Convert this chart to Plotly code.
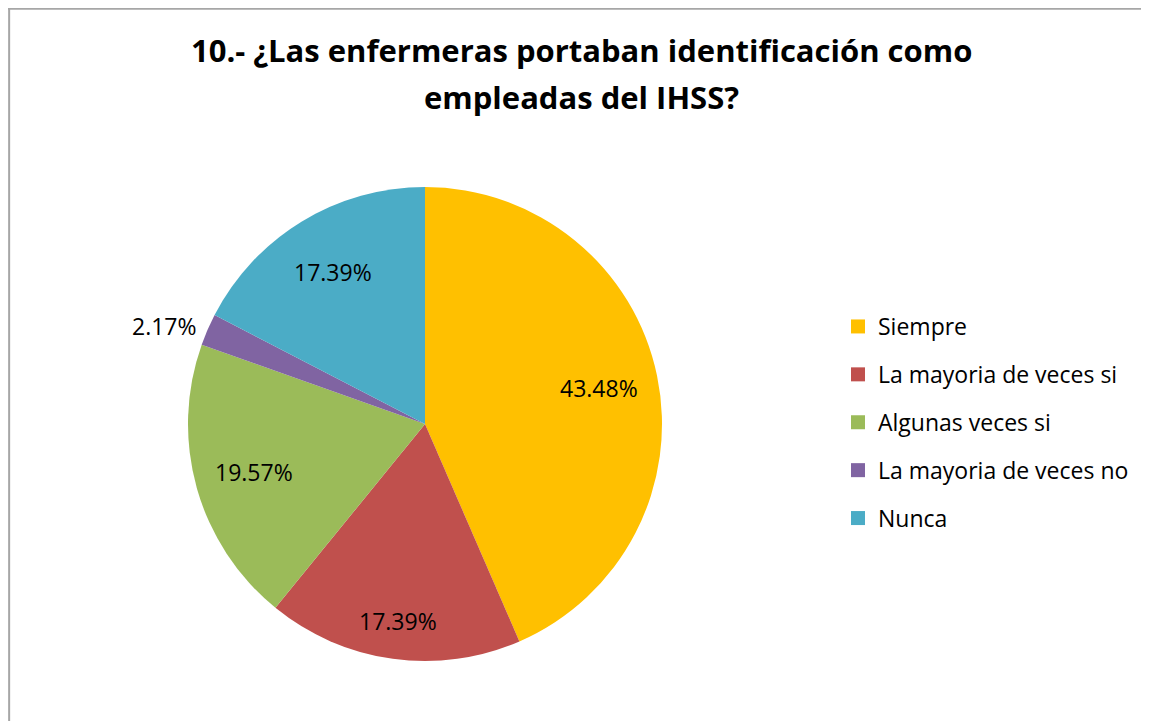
import math
import plotly.graph_objects as go

categories = ["Siempre", "La mayoria de veces si", "Algunas veces si",
              "La mayoria de veces no", "Nunca"]
counts = [20, 8, 9, 1, 8]
colors = ["#FFC000", "#C0504D", "#9BBB59", "#8064A2", "#4BACC6"]
title_lines = ["10.- ¿Las enfermeras portaban identificación como",
               "empleadas del IHSS?"]

# label placement (style): radius fraction per slice, and outside flag
label_r = [0.75, 0.84, 0.75, 1.04, 0.75]
label_out = [False, False, False, True, False]

# figure sits at an 8px body offset in the page
W, H = 1141, 713
OX, OY = 8, 8
cx, cy, R = 425 - OX, 424 - OY, 237

FONT = "Open Sans"

fig = go.Figure()
fig.add_trace(go.Pie(
    labels=categories,
    values=counts,
    sort=False,
    direction="clockwise",
    rotation=0,
    marker=dict(colors=colors, line=dict(width=0)),
    textinfo="none",
    showlegend=False,
    domain=dict(x=[(cx - R) / W, (cx + R) / W],
                y=[(H - cy - R) / H, (H - cy + R) / H]),
    hoverinfo="label+percent",
))

# legend entries as separate traces to control spacing
for cat, col in zip(categories, colors):
    fig.add_trace(go.Scatter(
        x=[None], y=[None], mode="markers", name=cat, legendgroup=cat,
        marker=dict(symbol="square", size=14, color=col),
        hoverinfo="skip",
    ))

# percentage labels from the data
total = sum(counts)
annotations = []
cum = 0
for v, rf, out in zip(counts, label_r, label_out):
    theta = 2 * math.pi * (cum + v / 2) / total
    cum += v
    px = cx + rf * R * math.sin(theta)
    py = cy - rf * R * math.cos(theta)
    annotations.append(dict(
        x=px / W, y=(H - py) / H, xref="paper", yref="paper",
        text=f"{100 * v / total:.2f}%", showarrow=False,
        xanchor=("right" if (out and math.sin(theta) < 0) else
                 "left" if out else "center"),
        yanchor="middle",
        font=dict(family=FONT, size=23, color="#000000"),
    ))

for line, ty in zip(title_lines, [50, 97]):
    annotations.append(dict(
        x=(581 - OX) / W, y=(H - (ty - OY)) / H, xref="paper", yref="paper",
        text="<b>" + line + "</b>", showarrow=False,
        xanchor="center", yanchor="middle",
        font=dict(family=FONT, size=31, color="#000000"),
    ))

fig.update_layout(
    width=W, height=H,
    margin=dict(l=0, r=0, t=0, b=0),
    paper_bgcolor="white",
    plot_bgcolor="white",
    xaxis=dict(visible=False),
    yaxis=dict(visible=False),
    annotations=annotations,
    legend=dict(x=(878 - OX - 40) / W, y=1 - (327 - OY - 22) / H,
                xanchor="left", yanchor="top",
                font=dict(family=FONT, size=23, color="#000000"),
                itemwidth=30, traceorder="grouped", tracegroupgap=15,
                bgcolor="rgba(0,0,0,0)"),
    shapes=[
        dict(type="line", xref="paper", yref="paper", x0=0.001, x1=0.001,
             y0=0, y1=1, line=dict(color="#A6A6A6", width=2)),
        dict(type="line", xref="paper", yref="paper", x0=0, x1=1,
             y0=0.999, y1=0.999, line=dict(color="#A6A6A6", width=2)),
    ],
)

fig.write_html("out.html")
